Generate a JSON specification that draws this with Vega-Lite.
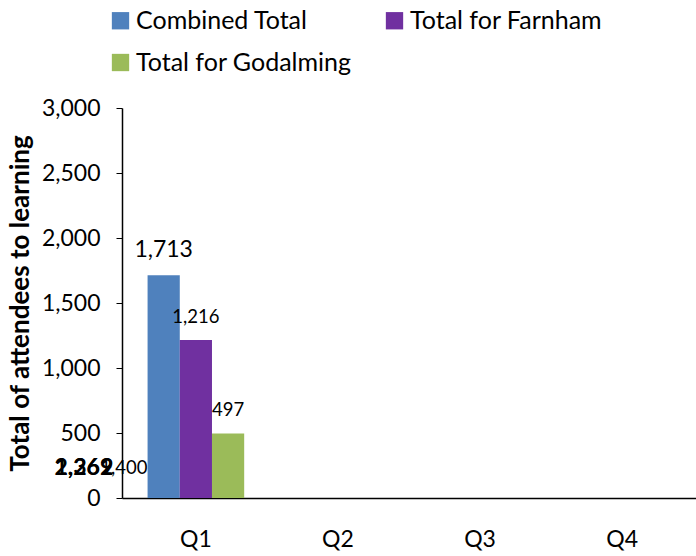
{
  "$schema": "https://vega.github.io/schema/vega-lite/v6.json",
  "width": 574,
  "height": 390,
  "autosize": {"type": "none"},
  "padding": {"left": 122, "top": 108, "right": 0, "bottom": 58},
  "background": "white",
  "config": {
    "view": {"stroke": null},
    "font": "Lato",
    "text": {"font": "Lato"}
  },
  "datasets": {
    "bars": [
      {"quarter": "Q1", "series": "Combined Total", "value": 1713, "label": "1,713"},
      {"quarter": "Q1", "series": "Total for Farnham", "value": 1216, "label": "1,216"},
      {"quarter": "Q1", "series": "Total for Godalming", "value": 497, "label": "497"},
      {"quarter": "Q2", "series": "Combined Total", "value": 0, "label": ""},
      {"quarter": "Q2", "series": "Total for Farnham", "value": 0, "label": ""},
      {"quarter": "Q2", "series": "Total for Godalming", "value": 0, "label": ""},
      {"quarter": "Q3", "series": "Combined Total", "value": 0, "label": ""},
      {"quarter": "Q3", "series": "Total for Farnham", "value": 0, "label": ""},
      {"quarter": "Q3", "series": "Total for Godalming", "value": 0, "label": ""},
      {"quarter": "Q4", "series": "Combined Total", "value": 0, "label": ""},
      {"quarter": "Q4", "series": "Total for Farnham", "value": 0, "label": ""},
      {"quarter": "Q4", "series": "Total for Godalming", "value": 0, "label": ""}
    ],
    "stray": [
      {"quarter": "Q1", "label": "2,262", "value": 230, "kind": "bold"},
      {"quarter": "Q1", "label": "1,369", "value": 230, "kind": "bold"},
      {"quarter": "Q1", "label": "1,400", "value": 230, "kind": "small"}
    ]
  },
  "encoding": {
    "x": {
      "field": "quarter",
      "type": "nominal",
      "sort": ["Q1", "Q2", "Q3", "Q4"],
      "scale": {"paddingInner": 0.32, "paddingOuter": 0.18},
      "axis": {
        "title": null,
        "labelAngle": 0,
        "labelFontSize": 23,
        "labelColor": "black",
        "labelPadding": 30,
        "ticks": false,
        "domainColor": "black",
        "domainWidth": 1.5,
        "grid": false
      }
    },
    "y": {
      "field": "value",
      "type": "quantitative",
      "scale": {"domain": [0, 3000]},
      "axis": {
        "title": "Total of attendees to learning",
        "titleFontSize": 26,
        "titleFontWeight": "bold",
        "titleColor": "black",
        "titlePadding": 8,
        "values": [0, 500, 1000, 1500, 2000, 2500, 3000],
        "format": ",d",
        "labelFontSize": 23,
        "labelColor": "black",
        "labelPadding": 16,
        "tickSize": 6,
        "tickColor": "black",
        "domainColor": "black",
        "domainWidth": 1.5,
        "grid": false
      }
    }
  },
  "layer": [
    {
      "data": {"name": "bars"},
      "mark": {"type": "bar"},
      "encoding": {
        "xOffset": {"field": "series", "type": "nominal", "sort": ["Combined Total", "Total for Farnham", "Total for Godalming"], "scale": {"paddingInner": 0, "paddingOuter": 0}},
        "color": {
          "field": "series",
          "type": "nominal",
          "scale": {
            "domain": ["Combined Total", "Total for Godalming", "Total for Farnham"],
            "range": ["#4F81BD", "#9BBB59", "#7030A0"]
          },
          "legend": {
            "title": null,
            "orient": "none",
            "legendX": -14,
            "legendY": -100,
            "columns": 2,
            "columnPadding": 30,
            "rowPadding": 16,
            "symbolType": "square",
            "symbolSize": 300,
            "symbolStrokeWidth": 0,
            "labelFontSize": 25,
            "labelColor": "black",
            "labelOffset": 3,
            "labelLimit": 400
          }
        }
      }
    },
    {
      "data": {"name": "bars"},
      "mark": {"type": "text", "baseline": "bottom", "dy": -13, "color": "black"},
      "encoding": {
        "xOffset": {"field": "series", "type": "nominal", "sort": ["Combined Total", "Total for Farnham", "Total for Godalming"], "scale": {"paddingInner": 0, "paddingOuter": 0}},
        "text": {"field": "label"},
        "size": {
          "condition": {"test": "datum.series === 'Combined Total'", "value": 23},
          "value": 18.5
        }
      }
    },
    {
      "data": {"name": "stray"},
      "transform": [{"filter": "datum.kind === 'bold'"}],
      "mark": {"type": "text", "baseline": "middle", "align": "center", "dx": -112, "fontSize": 23, "fontWeight": "bold", "color": "black"},
      "encoding": {"text": {"field": "label"}}
    },
    {
      "data": {"name": "stray"},
      "transform": [{"filter": "datum.kind === 'small'"}],
      "mark": {"type": "text", "baseline": "middle", "align": "center", "dx": -72, "fontSize": 18.5, "color": "black"},
      "encoding": {"text": {"field": "label"}}
    }
  ]
}
